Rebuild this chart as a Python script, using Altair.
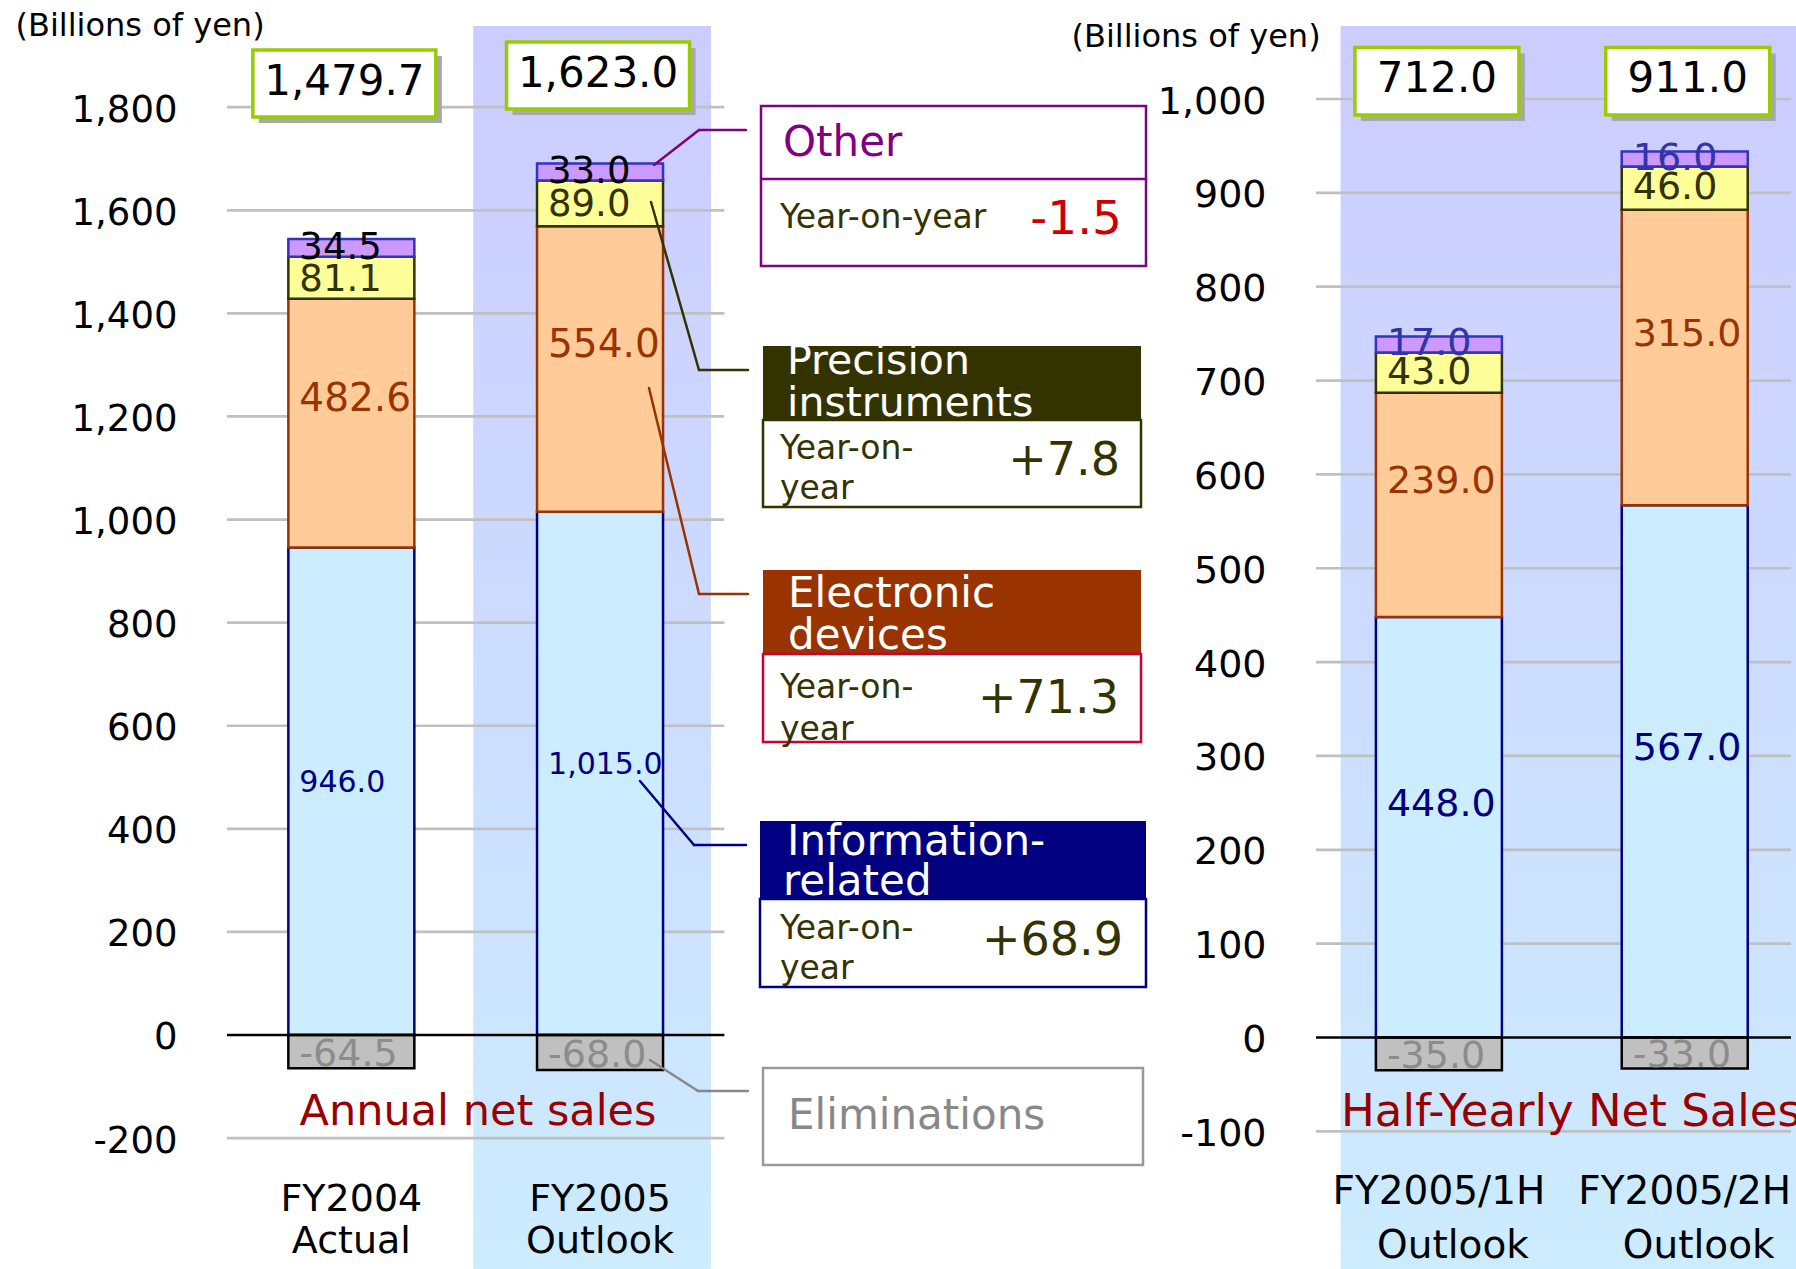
import altair as alt
import pandas as pd

FONT = "DejaVu Sans"

# ---------------------------------------------------------------- data
# Net sales by business segment, billions of yen
SEGMENTS = ["Information-related", "Electronic devices", "Precision instruments",
            "Other", "Eliminations"]

ANNUAL_PERIODS = ["FY2004", "FY2005"]
ANNUAL_STATUS = ["Actual", "Outlook"]
ANNUAL_INFO = [946.0, 1015.0]
ANNUAL_ELEC = [482.6, 554.0]
ANNUAL_PREC = [81.1, 89.0]
ANNUAL_OTHER = [34.5, 33.0]
ANNUAL_ELIM = [-64.5, -68.0]

HALF_PERIODS = ["FY2005/1H", "FY2005/2H"]
HALF_STATUS = ["Outlook", "Outlook"]
HALF_INFO = [448.0, 567.0]
HALF_ELEC = [239.0, 315.0]
HALF_PREC = [43.0, 46.0]
HALF_OTHER = [17.0, 16.0]
HALF_ELIM = [-35.0, -33.0]

# FY2005 outlook vs FY2004, by segment
YOY_SEGMENTS = ["Other", "Precision instruments", "Electronic devices", "Information-related"]
YOY_CHANGE = [-1.5, 7.8, 71.3, 68.9]

ANNUAL_TICKS = list(range(-200, 1801, 200))
HALF_TICKS = list(range(-100, 1001, 100))

SEG_FILL = ["#CCECFF", "#FFCC99", "#FFFF99", "#CC99FF", "#C0C0C0"]
SEG_STROKE = ["#000080", "#993300", "#333300", "#3333BB", "#000000"]

# ---------------------------------------------------------------- layout
H = 1269
LEFT_W, RIGHT_W = 1089, 485
LEFT_ORIGIN, RIGHT_ORIGIN = 222, 1311
SLOT_PX = 251          # pixels per category slot
X0 = -0.5
LEFT_XMAX = X0 + LEFT_W / SLOT_PX
RIGHT_XMAX = X0 + RIGHT_W / SLOT_PX

LEFT_X = alt.Scale(domain=[X0, LEFT_XMAX], nice=False, zero=False)
RIGHT_X = alt.Scale(domain=[X0, RIGHT_XMAX], nice=False, zero=False)
LEFT_Y = alt.Scale(domain=[-454, 2008], nice=False, zero=False)
RIGHT_Y = alt.Scale(domain=[-246.7, 1105.5], nice=False, zero=False)

BAND_FILL = {
    "x1": 0, "y1": 0, "x2": 0, "y2": 1, "gradient": "linear",
    "stops": [{"offset": 0, "color": "#CCCCFF"}, {"offset": 1, "color": "#CCECFF"}],
}

ONE = pd.DataFrame({"k": [0]})


def build_table(periods, info, elec, prec, other, elim):
    rows = []
    for i, p in enumerate(periods):
        base = 0.0
        for seg, v in zip(SEGMENTS[:4], [info[i], elec[i], prec[i], other[i]]):
            rows.append({"slot": i, "period": p, "segment": seg, "value": v,
                         "lo": base, "hi": base + v})
            base += v
        rows.append({"slot": i, "period": p, "segment": SEGMENTS[4], "value": elim[i],
                     "lo": 0.0, "hi": elim[i]})
    df = pd.DataFrame(rows)
    df["mid"] = (df["lo"] + df["hi"]) / 2
    df["label"] = [f"{v:,.1f}" for v in df["value"]]
    return df


def totals_table(df):
    t = df.groupby("slot", as_index=False)["value"].sum()
    t["label"] = [f"{v:,.1f}" for v in t["value"]]
    return t


def y_axis(ticks, label_size, title_x, title_y):
    return alt.Axis(
        values=ticks,
        labelExpr="datum.value < 0 ? '-' + format(-datum.value, ',') : format(datum.value, ',')",
        domain=False, ticks=False, grid=False, labelPadding=45, labelOffset=3,
        labelFont=FONT, labelFontSize=label_size, labelColor="black",
        title="(Billions of yen)", titleAngle=0, titleAlign="left", titleBaseline="middle",
        titleX=title_x, titleY=title_y, titleFont=FONT, titleFontSize=32,
        titleFontWeight="normal", titleColor="black",
    )


def px_text(text, x, y, size, color, origin, align="left", clip=False):
    return alt.Chart(ONE).mark_text(
        text=text, font=FONT, fontSize=size, color=color, align=align,
        baseline="middle", clip=clip,
    ).encode(x=alt.value(x - origin), y=alt.value(y))


def px_rect(x1, y1, x2, y2, origin, fill, stroke=None, sw=0):
    kw = {"fill": fill}
    if stroke:
        kw.update(stroke=stroke, strokeWidth=sw)
    return alt.Chart(ONE).mark_rect(**kw).encode(
        x=alt.value(x1 - origin), x2=alt.value(x2 - origin),
        y=alt.value(y1), y2=alt.value(y2))


def px_path(points, color, origin):
    out = []
    for (xa, ya), (xb, yb) in zip(points[:-1], points[1:]):
        out.append(alt.Chart(ONE).mark_rule(color=color, strokeWidth=2.5, strokeCap="round").encode(
            x=alt.value(xa - origin), y=alt.value(ya),
            x2=alt.value(xb - origin), y2=alt.value(yb)))
    return out


def panel(df, periods, status, ticks, xs, ys, grid_end, axis, label_style,
          band_lo, band_hi, boxes, box_w, cat_y, cat_size, cat_dx2, clip_text):
    x_enc = alt.X("slot:Q", scale=xs, axis=None)

    def y_enc(field):
        return alt.Y(field, scale=ys, axis=axis)

    layers = []

    # highlighted outlook column
    out_slots = [i for i, s in enumerate(status) if s == "Outlook"]
    band_df = pd.DataFrame({"lo": [min(out_slots) + band_lo], "hi": [max(out_slots) + band_hi]})
    layers.append(alt.Chart(band_df).mark_rect(fill=BAND_FILL, clip=True).encode(
        x=alt.X("lo:Q", scale=xs, axis=None), x2="hi:Q",
        y=alt.value(26), y2=alt.value(H)))

    # gridlines
    grid_df = pd.DataFrame({"tick": [t for t in ticks if t != 0]})
    layers.append(alt.Chart(grid_df).mark_rule(color="#C0C0C0", strokeWidth=2.7).encode(
        x=alt.X(datum=X0, scale=xs, axis=None), x2=alt.X2(datum=grid_end),
        y=y_enc("tick:Q")))

    # stacked segments
    layers.append(alt.Chart(df).mark_bar(size=126, strokeWidth=2.5).encode(
        x=x_enc,
        y=y_enc("lo:Q"), y2="hi:Q",
        fill=alt.Fill("segment:N", scale=alt.Scale(domain=SEGMENTS, range=SEG_FILL), legend=None),
        stroke=alt.Stroke("segment:N", scale=alt.Scale(domain=SEGMENTS, range=SEG_STROKE), legend=None),
    ))

    # zero line
    layers.append(alt.Chart(pd.DataFrame({"zero": [0]})).mark_rule(color="black", strokeWidth=2.5).encode(
        x=alt.X(datum=X0, scale=xs, axis=None), x2=alt.X2(datum=grid_end),
        y=y_enc("zero:Q")))

    # segment value labels
    for seg in SEGMENTS:
        color, size, dy = label_style[seg]
        layers.append(alt.Chart(df).transform_filter(alt.datum.segment == seg).mark_text(
            font=FONT, fontSize=size, color=color, align="left", baseline="middle",
            dx=-52, dy=dy,
        ).encode(x=x_enc, y=y_enc("mid:Q"), text="label:N"))

    # total boxes
    tot = totals_table(df)
    for slot, (top, bottom, dx) in enumerate(boxes):
        row = alt.Chart(tot).transform_filter(alt.datum.slot == slot)
        layers.append(row.mark_bar(size=box_w, xOffset=dx + 6, color="#A8A8A8").encode(
            x=x_enc, y=alt.value(top + 6), y2=alt.value(bottom + 6)))
        layers.append(row.mark_bar(size=box_w, xOffset=dx, fill="white",
                                   stroke="#99CC00", strokeWidth=3.5).encode(
            x=x_enc, y=alt.value(top), y2=alt.value(bottom)))
        layers.append(row.mark_text(font=FONT, fontSize=42, color="black",
                                    baseline="middle", xOffset=dx).encode(
            x=x_enc, y=alt.value((top + bottom) / 2 - 2), text="label:N"))

    # category labels
    cats = pd.DataFrame({"slot": list(range(len(periods))), "period": periods, "status": status})
    layers.append(alt.Chart(cats).mark_text(font=FONT, fontSize=cat_size, color="black",
                                            baseline="middle", clip=clip_text).encode(
        x=x_enc, y=alt.value(cat_y[0]), text="period:N"))
    layers.append(alt.Chart(cats).mark_text(font=FONT, fontSize=cat_size, color="black",
                                            baseline="middle", dx=cat_dx2, clip=clip_text).encode(
        x=x_enc, y=alt.value(cat_y[1]), text="status:N"))
    return layers


annual = build_table(ANNUAL_PERIODS, ANNUAL_INFO, ANNUAL_ELEC, ANNUAL_PREC, ANNUAL_OTHER, ANNUAL_ELIM)
half = build_table(HALF_PERIODS, HALF_INFO, HALF_ELEC, HALF_PREC, HALF_OTHER, HALF_ELIM)

LEFT_LABELS = {
    "Information-related": ("#000080", 30, -8),
    "Electronic devices": ("#993300", 39, -24),
    "Precision instruments": ("#333300", 37, 2),
    "Other": ("#000000", 37, 0),
    "Eliminations": ("#8C8C8C", 38, 3),
}
RIGHT_LABELS = {
    "Information-related": ("#000080", 38, -22),
    "Electronic devices": ("#993300", 38, -23),
    "Precision instruments": ("#333300", 38, 0),
    "Other": ("#3333AA", 38, 0),
    "Eliminations": ("#8C8C8C", 38, 3),
}

left_layers = panel(
    annual, ANNUAL_PERIODS, ANNUAL_STATUS, ANNUAL_TICKS, LEFT_X, LEFT_Y, 1.5,
    y_axis(ANNUAL_TICKS, 37, 15 - LEFT_ORIGIN, 25), LEFT_LABELS,
    -0.51, 0.446, [(50, 117, -7), (42, 109, -2)], 183,
    (1200, 1242), 38, 0, False,
)
left_layers.append(px_text("Annual net sales", 478, 1112, 43, "#990000", LEFT_ORIGIN, align="center"))

# ---- segment callouts with year-on-year change
yoy = dict(zip(YOY_SEGMENTS, YOY_CHANGE))
O = LEFT_ORIGIN
TXT = "#333300"

# Other
left_layers += px_path([(654, 165), (699, 130), (746, 130)], "#800080", O)
left_layers.append(px_rect(761, 106, 1146, 266, O, "white", "#800080", 2.5))
left_layers += px_path([(761, 179), (1146, 179)], "#800080", O)
left_layers.append(px_text("Other", 783, 143, 42, "#800080", O))
left_layers.append(px_text("Year-on-year", 780, 218, 33, TXT, O))
left_layers.append(px_text(f"{yoy['Other']:+.1f}", 1122, 220, 47, "#CC0000", O, align="right"))

# Precision instruments
left_layers += px_path([(651, 202), (699, 370), (748, 370)], "#333300", O)
left_layers.append(px_rect(763, 346, 1141, 420, O, "#333300"))
left_layers.append(px_rect(763, 420, 1141, 507, O, "white", "#333300", 2.5))
left_layers.append(px_text("Precision", 787, 362, 41, "white", O))
left_layers.append(px_text("instruments", 787, 404, 41, "white", O))
left_layers.append(px_text("Year-on-", 780, 449, 33, TXT, O))
left_layers.append(px_text("year", 780, 489, 33, TXT, O))
left_layers.append(px_text(f"{yoy['Precision instruments']:+.1f}", 1120, 461, 46, TXT, O, align="right"))

# Electronic devices
left_layers += px_path([(649, 388), (699, 594), (748, 594)], "#993300", O)
left_layers.append(px_rect(763, 570, 1141, 654, O, "#993300"))
left_layers.append(px_rect(763, 654, 1141, 742, O, "white", "#CC0033", 2.5))
left_layers.append(px_text("Electronic", 788, 594, 42, "white", O))
left_layers.append(px_text("devices", 788, 636, 42, "white", O))
left_layers.append(px_text("Year-on-", 780, 688, 33, TXT, O))
left_layers.append(px_text("year", 780, 730, 33, TXT, O))
left_layers.append(px_text(f"{yoy['Electronic devices']:+.1f}", 1119, 699, 46, TXT, O, align="right"))

# Information-related
left_layers += px_path([(640, 781), (694, 845), (746, 845)], "#000080", O)
left_layers.append(px_rect(760, 821, 1146, 899, O, "#000080"))
left_layers.append(px_rect(760, 899, 1146, 987, O, "white", "#000080", 2.5))
left_layers.append(px_text("Information-", 787, 842, 42, "white", O))
left_layers.append(px_text("related", 783, 882, 42, "white", O))
left_layers.append(px_text("Year-on-", 780, 929, 33, TXT, O))
left_layers.append(px_text("year", 780, 969, 33, TXT, O))
left_layers.append(px_text(f"{yoy['Information-related']:+.1f}", 1123, 941, 46, TXT, O, align="right"))

# Eliminations
left_layers += px_path([(650, 1060), (698, 1091), (748, 1091)], "#888888", O)
left_layers.append(px_rect(763, 1068, 1143, 1165, O, "white", "#999999", 2.5))
left_layers.append(px_text("Eliminations", 788, 1116, 42, "#888888", O))

left = alt.layer(*left_layers).properties(width=LEFT_W, height=H)

right_layers = panel(
    half, HALF_PERIODS, HALF_STATUS, HALF_TICKS, RIGHT_X, RIGHT_Y, RIGHT_XMAX,
    y_axis(HALF_TICKS, 38, 1071 - RIGHT_ORIGIN, 36), RIGHT_LABELS,
    -0.4, 0.6, [(47.5, 115, -2), (47.5, 115, 3)], 164,
    (1192, 1246), 39, 14, True,
)
right_layers.append(px_text("Half-Yearly Net Sales", 1341, 1112, 45, "#990000",
                            RIGHT_ORIGIN, clip=True))
right = alt.layer(*right_layers).properties(width=RIGHT_W, height=H)

chart = alt.hconcat(left, right, spacing=0, bounds="flush").properties(
    padding={"left": 15, "top": 0, "right": 0, "bottom": 0},
    autosize=alt.AutoSizeParams(type="pad"),
).configure_view(stroke=None)

chart.save("out.html", embed_options={"renderer": "svg", "actions": False})
